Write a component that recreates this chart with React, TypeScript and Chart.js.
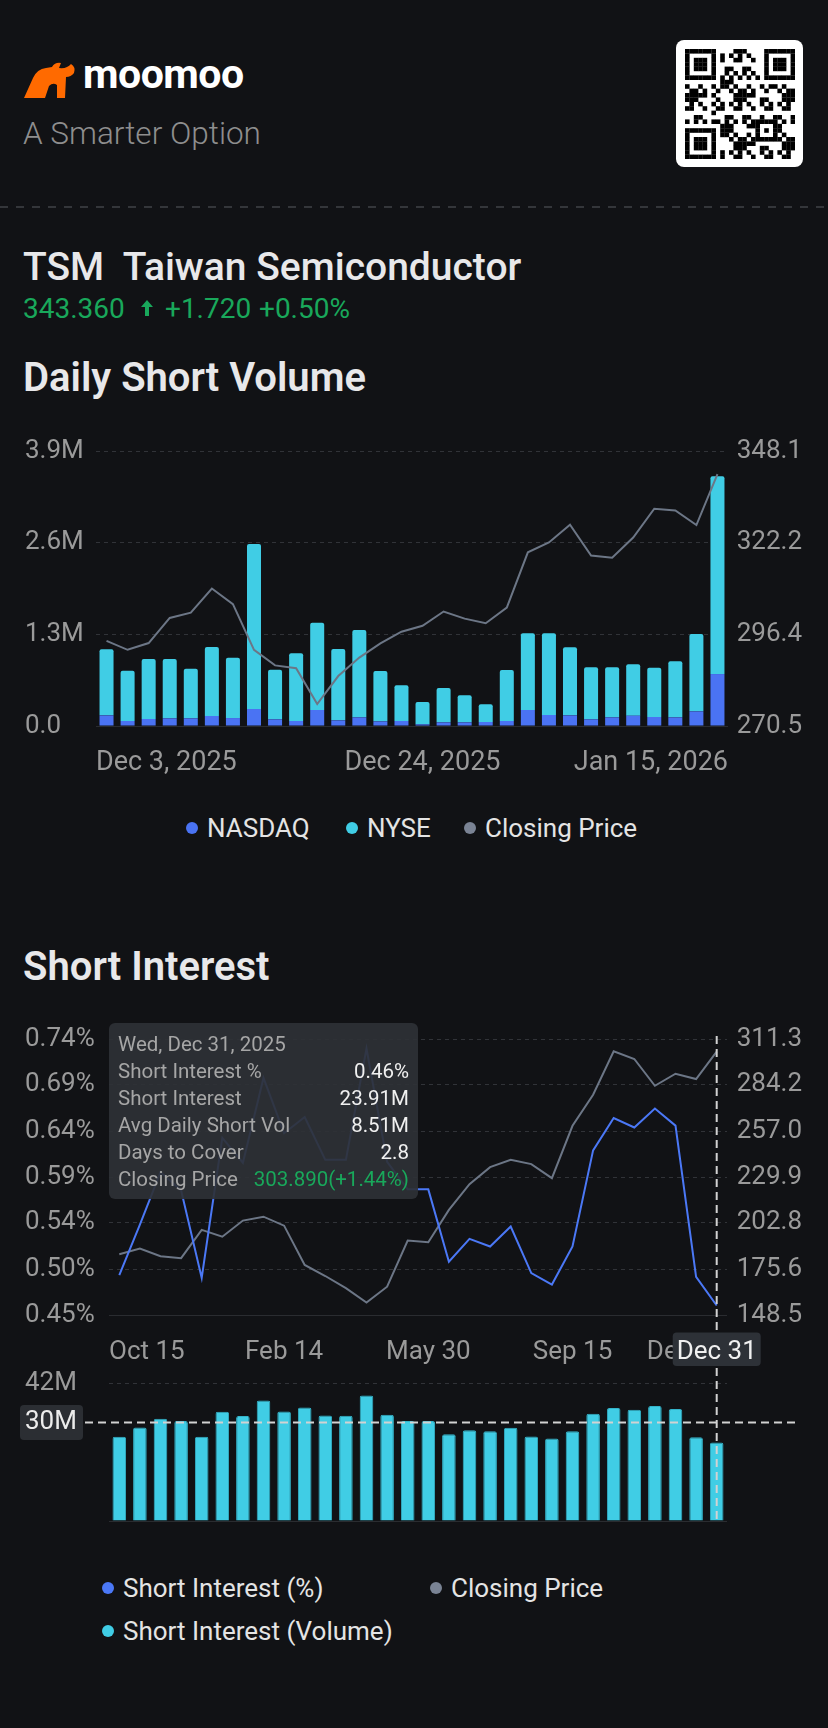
import React, { useEffect, useRef } from 'react';
import { Chart, registerables } from 'chart.js';

Chart.register(...registerables);

const FONT = 'Roboto, "Noto Sans", "DejaVu Sans", sans-serif';
const BG = '#111215';
const TICK = '#9a9a9a';
const BLUE = '#4a73f3';
const CYAN = '#40cde5';
const PRICE_GRAY = '#6c7686';
const DOT_GRAY = '#7a8394';
const SI_BLUE = '#4b78f6';
const GREEN = '#19a85b';

// ---------- Daily Short Volume (values in millions) ----------
const dsvDates = ['Dec 3, 2025', 'Dec 4, 2025', 'Dec 5, 2025', 'Dec 8, 2025', 'Dec 9, 2025', 'Dec 10, 2025', 'Dec 11, 2025', 'Dec 12, 2025', 'Dec 15, 2025', 'Dec 16, 2025', 'Dec 17, 2025', 'Dec 18, 2025', 'Dec 19, 2025', 'Dec 22, 2025', 'Dec 23, 2025', 'Dec 24, 2025', 'Dec 26, 2025', 'Dec 29, 2025', 'Dec 30, 2025', 'Dec 31, 2025', 'Jan 2, 2026', 'Jan 5, 2026', 'Jan 6, 2026', 'Jan 7, 2026', 'Jan 8, 2026', 'Jan 9, 2026', 'Jan 12, 2026', 'Jan 13, 2026', 'Jan 14, 2026', 'Jan 15, 2026'];
const dsvNasdaq = [0.151, 0.071, 0.099, 0.109, 0.109, 0.142, 0.113, 0.241, 0.095, 0.071, 0.227, 0.080, 0.123, 0.066, 0.071, 0.024, 0.052, 0.052, 0.057, 0.071, 0.227, 0.156, 0.151, 0.095, 0.123, 0.147, 0.128, 0.123, 0.208, 0.737];
const dsvNyse = [0.936, 0.714, 0.851, 0.841, 0.704, 0.978, 0.856, 2.340, 0.704, 0.960, 1.238, 1.012, 1.238, 0.714, 0.506, 0.316, 0.487, 0.383, 0.250, 0.723, 1.087, 1.158, 0.965, 0.737, 0.709, 0.728, 0.699, 0.794, 1.097, 2.804];
const dsvClose = [294.5, 292.0, 293.9, 301.0, 302.5, 309.3, 304.9, 292.0, 287.6, 286.8, 276.7, 284.6, 289.8, 293.8, 297.1, 298.8, 302.8, 300.8, 299.5, 303.9, 319.5, 322.3, 327.3, 318.6, 318.0, 323.7, 331.8, 331.3, 327.2, 341.6];
const dsvVolTicks = [0, 1.3, 2.6, 3.9];
const dsvVolTickLabels = ['0.0', '1.3M', '2.6M', '3.9M'];
const dsvPriceTicks = [270.5, 296.37, 322.23, 348.1];
const dsvPriceTickLabels = ['270.5', '296.4', '322.2', '348.1'];
const dsvXLabelIdx = [0, 15, 29];

// ---------- Short Interest ----------
const siDates = ['Oct 15, 2024', 'Oct 31, 2024', 'Nov 15, 2024', 'Nov 29, 2024', 'Dec 13, 2024', 'Dec 31, 2024', 'Jan 15, 2025', 'Jan 31, 2025', 'Feb 14, 2025', 'Feb 28, 2025', 'Mar 14, 2025', 'Mar 31, 2025', 'Apr 15, 2025', 'Apr 30, 2025', 'May 15, 2025', 'May 30, 2025', 'Jun 13, 2025', 'Jun 30, 2025', 'Jul 15, 2025', 'Jul 31, 2025', 'Aug 15, 2025', 'Aug 29, 2025', 'Sep 15, 2025', 'Sep 30, 2025', 'Oct 15, 2025', 'Oct 31, 2025', 'Nov 14, 2025', 'Nov 28, 2025', 'Dec 15, 2025', 'Dec 31, 2025'];
const siPct = [0.492, 0.545, 0.600, 0.581, 0.489, 0.636, 0.610, 0.699, 0.641, 0.658, 0.613, 0.613, 0.730, 0.611, 0.582, 0.582, 0.506, 0.530, 0.522, 0.543, 0.494, 0.482, 0.522, 0.623, 0.657, 0.647, 0.667, 0.649, 0.490, 0.46];
const siClose = [184.3, 187.7, 183.2, 182.0, 198.7, 194.7, 204.2, 206.5, 201.2, 178.0, 171.5, 164.3, 155.8, 165.2, 192.4, 191.4, 210.5, 225.7, 235.7, 240.0, 237.5, 229.2, 260.1, 278.4, 304.0, 299.5, 283.7, 290.8, 287.7, 303.89];
const siVolume = [25.62, 28.47, 31.11, 30.40, 25.62, 33.24, 31.92, 36.70, 33.35, 34.57, 32.13, 32.02, 38.23, 32.33, 30.40, 30.40, 26.43, 27.65, 27.35, 28.37, 25.72, 25.11, 27.35, 32.64, 34.36, 33.86, 34.97, 34.06, 25.52, 23.91];
const siPctTicks = [0.45, 0.49833, 0.54667, 0.595, 0.64333, 0.69167, 0.74];
const siPctTickLabels = ['0.45%', '0.50%', '0.54%', '0.59%', '0.64%', '0.69%', '0.74%'];
const siPriceTicks = [148.5, 175.63, 202.77, 229.9, 257.03, 284.17, 311.3];
const siPriceTickLabels = ['148.5', '175.6', '202.8', '229.9', '257.0', '284.2', '311.3'];
const siVolTicks = [0, 42];
const siVolTickLabels = ['', '42M'];
const siXLabelIdx = [0, 8, 15, 22, 29];
const siActive = 29;
const siCrosshairVol = 30;
const siAvgDailyShortVol = [8.51];
const siDayChangePct = [1.44];

const shortDate = (d: string) => d.split(',')[0];

function gridOpts() {
  return {
    grid: {
      color: (c: any) => (c.index === 0 ? '#2a2c30' : '#313338'),
      drawTicks: false,
      lineWidth: 1,
    },
    border: { display: false, dash: (c: any) => (c.index === 0 ? [] : [4, 4]) },
  };
}

function tickOpts(labels: string[]) {
  return {
    color: TICK,
    font: { family: FONT, size: 26 },
    crossAlign: 'far',
    padding: 0,
    callback: (_v: any, i: number) => labels[i],
  };
}

function xLabelsPlugin(idx: number[], labels: string[], y: number, size: number) {
  return {
    id: 'xlabels',
    afterDraw(chart: any) {
      const { ctx, chartArea } = chart;
      const xs = chart.scales.x;
      ctx.save();
      ctx.font = `${size}px ${FONT}`;
      ctx.fillStyle = TICK;
      ctx.textBaseline = 'alphabetic';
      idx.forEach((i, k) => {
        let x = xs.getPixelForValue(i);
        if (k === 0) {
          ctx.textAlign = 'left';
          x = chartArea.left;
        } else if (k === idx.length - 1) {
          ctx.textAlign = 'right';
          x = chartArea.right;
        } else ctx.textAlign = 'center';
        ctx.fillText(labels[i], x, y);
      });
      ctx.restore();
    },
  };
}

function ChartCanvas({ top, height, build }: { top: number; height: number; build: () => any }) {
  const ref = useRef<HTMLCanvasElement>(null);
  useEffect(() => {
    const chart = new Chart(ref.current as HTMLCanvasElement, build());
    return () => chart.destroy();
  }, []);
  return (
    <canvas
      ref={ref}
      width={828}
      height={height}
      style={{ position: 'absolute', left: 0, top, width: 828, height }}
    />
  );
}

function buildDsv() {
  return {
    type: 'bar',
    data: {
      labels: dsvDates,
      datasets: [
        {
          type: 'line',
          label: 'Closing Price',
          data: dsvClose,
          yAxisID: 'y1',
          borderColor: PRICE_GRAY,
          borderWidth: 2,
          pointRadius: 0,
          tension: 0,
          order: 0,
        },
        {
          label: 'NASDAQ',
          data: dsvNasdaq,
          yAxisID: 'y',
          backgroundColor: BLUE,
          barPercentage: 0.665,
          categoryPercentage: 1,
          order: 1,
        },
        {
          label: 'NYSE',
          data: dsvNyse,
          yAxisID: 'y',
          backgroundColor: CYAN,
          borderRadius: { topLeft: 2, topRight: 2, bottomLeft: 0, bottomRight: 0 },
          borderSkipped: false,
          barPercentage: 0.665,
          categoryPercentage: 1,
          order: 1,
        },
      ],
    },
    options: {
      responsive: false,
      animation: false,
      layout: { padding: { left: 25, right: 26, top: 31, bottom: 64 } },
      plugins: { legend: { display: false }, tooltip: { enabled: false } },
      scales: {
        x: { display: false, stacked: true, offset: true },
        y: {
          position: 'left',
          stacked: true,
          min: 0,
          max: 3.9,
          afterBuildTicks: (s: any) => {
            s.ticks = dsvVolTicks.map((v) => ({ value: v }));
          },
          afterFit: (s: any) => {
            s.width = 71;
          },
          ticks: tickOpts(dsvVolTickLabels),
          ...gridOpts(),
        },
        y1: {
          position: 'right',
          min: 270.5,
          max: 348.1,
          afterBuildTicks: (s: any) => {
            s.ticks = dsvPriceTicks.map((v) => ({ value: v }));
          },
          afterFit: (s: any) => {
            s.width = 74;
          },
          ticks: tickOpts(dsvPriceTickLabels),
          grid: { display: false, drawTicks: false },
          border: { display: false },
        },
      },
    },
    plugins: [xLabelsPlugin(dsvXLabelIdx, dsvDates, 350, 27)],
  };
}

function buildSiLines() {
  const crosshair = {
    id: 'crosshair',
    afterDraw(chart: any) {
      const { ctx, chartArea } = chart;
      const x = chart.scales.x.getPixelForValue(siActive);
      ctx.save();
      ctx.strokeStyle = '#d2d2d2';
      ctx.lineWidth = 2;
      ctx.setLineDash([8, 5]);
      ctx.beginPath();
      ctx.moveTo(x, chartArea.top - 3);
      ctx.lineTo(x, 334);
      ctx.stroke();
      ctx.setLineDash([]);
      const w = 88;
      ctx.fillStyle = '#2d3137';
      ctx.beginPath();
      ctx.roundRect(x - w / 2, 332.5, w, 33.5, 4);
      ctx.fill();
      ctx.fillStyle = '#f0f0f0';
      ctx.font = `26px ${FONT}`;
      ctx.textAlign = 'center';
      ctx.textBaseline = 'alphabetic';
      ctx.fillText(shortDate(siDates[siActive]), x, 359);
      ctx.restore();
    },
  };
  return {
    type: 'line',
    data: {
      labels: siDates,
      datasets: [
        {
          label: 'Short Interest (%)',
          data: siPct,
          yAxisID: 'y',
          borderColor: SI_BLUE,
          borderWidth: 2,
          pointRadius: 0,
          tension: 0,
          order: 0,
        },
        {
          label: 'Closing Price',
          data: siClose,
          yAxisID: 'y1',
          borderColor: PRICE_GRAY,
          borderWidth: 2,
          pointRadius: 0,
          tension: 0,
          order: 1,
        },
      ],
    },
    options: {
      responsive: false,
      animation: false,
      layout: { padding: { left: 25, right: 26, top: 39, bottom: 65 } },
      plugins: { legend: { display: false }, tooltip: { enabled: false } },
      scales: {
        x: { display: false, offset: true },
        y: {
          position: 'left',
          min: 0.45,
          max: 0.74,
          afterBuildTicks: (s: any) => {
            s.ticks = siPctTicks.map((v) => ({ value: v }));
          },
          afterFit: (s: any) => {
            s.width = 84;
          },
          ticks: tickOpts(siPctTickLabels),
          ...gridOpts(),
        },
        y1: {
          position: 'right',
          min: 148.5,
          max: 311.3,
          afterBuildTicks: (s: any) => {
            s.ticks = siPriceTicks.map((v) => ({ value: v }));
          },
          afterFit: (s: any) => {
            s.width = 75;
          },
          ticks: tickOpts(siPriceTickLabels),
          grid: { display: false, drawTicks: false },
          border: { display: false },
        },
      },
    },
    plugins: [xLabelsPlugin(siXLabelIdx, siDates.map(shortDate), 359, 26), crosshair],
  };
}

function buildSiBars() {
  const crosshair = {
    id: 'crosshair2',
    afterDraw(chart: any) {
      const { ctx, chartArea } = chart;
      const x = chart.scales.x.getPixelForValue(siActive);
      const y = chart.scales.y.getPixelForValue(siCrosshairVol);
      ctx.save();
      ctx.strokeStyle = '#d2d2d2';
      ctx.lineWidth = 2;
      ctx.setLineDash([8, 5]);
      ctx.beginPath();
      ctx.moveTo(x, 8);
      ctx.lineTo(x, chartArea.bottom);
      ctx.stroke();
      ctx.beginPath();
      ctx.moveTo(85, y);
      ctx.lineTo(800, y);
      ctx.stroke();
      ctx.setLineDash([]);
      ctx.fillStyle = '#2b2e33';
      ctx.beginPath();
      ctx.roundRect(20, y - 17.5, 63, 35, 4);
      ctx.fill();
      ctx.fillStyle = '#ececec';
      ctx.font = `26px ${FONT}`;
      ctx.textAlign = 'left';
      ctx.textBaseline = 'middle';
      ctx.fillText(`${siCrosshairVol}M`, 25, y);
      ctx.restore();
    },
  };
  return {
    type: 'bar',
    data: {
      labels: siDates,
      datasets: [
        {
          label: 'Short Interest (Volume)',
          data: siVolume,
          backgroundColor: CYAN,
          borderColor: '#33b3c9',
          borderWidth: 1,
          borderRadius: { topLeft: 2, topRight: 2, bottomLeft: 0, bottomRight: 0 },
          borderSkipped: 'bottom',
          barPercentage: 0.66,
          categoryPercentage: 1,
        },
      ],
    },
    options: {
      responsive: false,
      animation: false,
      layout: { padding: { left: 25, right: 101, top: 23, bottom: 19 } },
      plugins: { legend: { display: false }, tooltip: { enabled: false } },
      scales: {
        x: { display: false, offset: true },
        y: {
          position: 'left',
          min: 0,
          max: 42,
          afterBuildTicks: (s: any) => {
            s.ticks = siVolTicks.map((v) => ({ value: v }));
          },
          afterFit: (s: any) => {
            s.width = 84;
          },
          ticks: tickOpts(siVolTickLabels),
          ...gridOpts(),
        },
      },
    },
    plugins: [crosshair],
  };
}

function LegendItem({ x, y, color, label }: { x: number; y: number; color: string; label: string }) {
  return (
    <div
      style={{
        position: 'absolute',
        left: x,
        top: y - 13,
        height: 26,
        display: 'flex',
        alignItems: 'center',
        whiteSpace: 'nowrap',
      }}
    >
      <span style={{ width: 12, height: 12, borderRadius: 6, background: color, marginRight: 9, flex: 'none' }} />
      <span style={{ fontSize: 26, lineHeight: '26px', color: '#e4e4e4' }}>{label}</span>
    </div>
  );
}

function QRCode() {
  const n = 25;
  const s = 4.4;
  const rects: any[] = [];
  const inFinder = (r: number, c: number) =>
    (r < 7 && c < 7) || (r < 7 && c >= n - 7) || (r >= n - 7 && c < 7);
  const nearFinder = (r: number, c: number) =>
    (r < 8 && c < 8) || (r < 8 && c >= n - 8) || (r >= n - 8 && c < 8);
  for (let r = 0; r < n; r++) {
    for (let c = 0; c < n; c++) {
      let on = false;
      if (inFinder(r, c)) {
        const rr = r >= n - 7 ? r - (n - 7) : r;
        const cc = c >= n - 7 ? c - (n - 7) : c;
        on = rr === 0 || rr === 6 || cc === 0 || cc === 6 || (rr >= 2 && rr <= 4 && cc >= 2 && cc <= 4);
      } else if (nearFinder(r, c)) {
        on = false;
      } else if (r >= 16 && r <= 20 && c >= 16 && c <= 20) {
        const rr = r - 16;
        const cc = c - 16;
        on = rr === 0 || rr === 4 || cc === 0 || cc === 4 || (rr === 2 && cc === 2);
      } else if (r === 6) {
        on = c % 2 === 0;
      } else if (c === 6) {
        on = r % 2 === 0;
      } else {
        on = (r * 7 + c * 13 + r * c * 3) % 11 < 5;
      }
      if (on) rects.push(<rect key={`${r}-${c}`} x={c * s} y={r * s} width={s + 0.2} height={s + 0.2} fill="#000" />);
    }
  }
  return (
    <div
      style={{
        position: 'absolute',
        left: 676,
        top: 40,
        width: 127,
        height: 127,
        background: '#fff',
        borderRadius: 8,
      }}
    >
      <svg width={110} height={110} style={{ position: 'absolute', left: 9, top: 9 }}>
        {rects}
      </svg>
    </div>
  );
}

function TooltipBox() {
  const i = siActive;
  const d = new Date(siDates[i]);
  const wd = ['Sun', 'Mon', 'Tue', 'Wed', 'Thu', 'Fri', 'Sat'][d.getDay()];
  const rows: [string, string, string][] = [
    ['Short Interest %', `${siPct[i].toFixed(2)}%`, '#f0f0f0'],
    ['Short Interest', `${siVolume[i].toFixed(2)}M`, '#f0f0f0'],
    ['Avg Daily Short Vol', `${siAvgDailyShortVol[0].toFixed(2)}M`, '#f0f0f0'],
    ['Days to Cover', (siVolume[i] / siAvgDailyShortVol[0]).toFixed(1), '#f0f0f0'],
    ['Closing Price', `${siClose[i].toFixed(3)}(+${siDayChangePct[0].toFixed(2)}%)`, GREEN],
  ];
  return (
    <div
      style={{
        position: 'absolute',
        left: 109,
        top: 1023,
        width: 309,
        height: 176,
        boxSizing: 'border-box',
        padding: '8px 9px 0 9px',
        background: 'rgba(46,49,54,0.92)',
        borderRadius: 6,
        fontSize: 20.5,
        lineHeight: '26.9px',
        color: '#a6a6a6',
        whiteSpace: 'nowrap',
        zIndex: 5,
      }}
    >
      <div>{`${wd}, ${siDates[i]}`}</div>
      {rows.map(([l, v, col]) => (
        <div key={l} style={{ display: 'flex', justifyContent: 'space-between' }}>
          <span>{l}</span>
          <span style={{ color: col }}>{v}</span>
        </div>
      ))}
    </div>
  );
}

export default function App() {
  return (
    <div
      style={{
        position: 'relative',
        width: 828,
        height: 1728,
        background: BG,
        fontFamily: FONT,
        overflow: 'hidden',
      }}
    >
      <style>{`html,body{margin:0;padding:0;background:${BG};}`}</style>

      {/* Logo */}
      <svg width={52} height={36} viewBox="0 0 52 36" style={{ position: 'absolute', left: 24, top: 62 }}>
        <path
          d="M0 36 L9 16 Q13 7 22 6 L28 5 Q31 0 37 1 L35 6 Q43 7 47 2 Q52 5 50 11 Q47 15 42 15 L41 36 L33 36 L33 23 Q29 20 25 24 L21 36 Z"
          fill="#ff6a00"
        />
      </svg>
      <div
        style={{
          position: 'absolute',
          left: 83,
          top: 54,
          fontSize: 41,
          lineHeight: '41px',
          fontWeight: 700,
          color: '#ffffff',
          letterSpacing: -0.5,
        }}
      >
        moomoo
      </div>
      <div
        style={{
          position: 'absolute',
          left: 23,
          top: 118,
          fontSize: 31.5,
          lineHeight: '31.5px',
          fontWeight: 300,
          color: '#8e8e8e',
        }}
      >
        A Smarter Option
      </div>
      <QRCode />

      <div
        style={{
          position: 'absolute',
          left: 0,
          top: 206,
          width: 828,
          height: 2,
          background: 'repeating-linear-gradient(to right, #34363a 0 8px, transparent 8px 16px)',
        }}
      />

      <div
        style={{
          position: 'absolute',
          left: 23,
          top: 248,
          fontSize: 39,
          lineHeight: '39px',
          fontWeight: 500,
          color: '#e8e8ea',
          whiteSpace: 'pre',
        }}
      >
        {'TSM  Taiwan Semiconductor'}
      </div>
      <div style={{ position: 'absolute', top: 295, left: 0, fontSize: 28, lineHeight: '28px', color: GREEN }}>
        <span style={{ position: 'absolute', left: 23, whiteSpace: 'nowrap' }}>343.360</span>
        <svg width={12} height={16} viewBox="0 0 12 16" style={{ position: 'absolute', left: 141, top: 5 }}>
          <path d="M6 0 L12 7 L8 7 L8 16 L4 16 L4 7 L0 7 Z" fill={GREEN} />
        </svg>
        <span style={{ position: 'absolute', left: 165, whiteSpace: 'nowrap' }}>+1.720</span>
        <span style={{ position: 'absolute', left: 259, whiteSpace: 'nowrap' }}>+0.50%</span>
      </div>

      <div
        style={{
          position: 'absolute',
          left: 23,
          top: 358,
          fontSize: 40,
          lineHeight: '40px',
          fontWeight: 600,
          color: '#e8e8ea',
        }}
      >
        Daily Short Volume
      </div>

      <ChartCanvas top={420} height={370} build={buildDsv} />

      <LegendItem x={186} y={827.5} color={BLUE} label="NASDAQ" />
      <LegendItem x={346} y={827.5} color={CYAN} label="NYSE" />
      <LegendItem x={464} y={827.5} color={DOT_GRAY} label="Closing Price" />

      <div
        style={{
          position: 'absolute',
          left: 23,
          top: 947,
          fontSize: 40,
          lineHeight: '40px',
          fontWeight: 600,
          color: '#e8e8ea',
        }}
      >
        Short Interest
      </div>

      <ChartCanvas top={1000} height={380} build={buildSiLines} />
      <ChartCanvas top={1360} height={180} build={buildSiBars} />
      <TooltipBox />

      <LegendItem x={102} y={1587.5} color={SI_BLUE} label="Short Interest (%)" />
      <LegendItem x={430} y={1587.5} color={DOT_GRAY} label="Closing Price" />
      <LegendItem x={102} y={1630.5} color={CYAN} label="Short Interest (Volume)" />
    </div>
  );
}
